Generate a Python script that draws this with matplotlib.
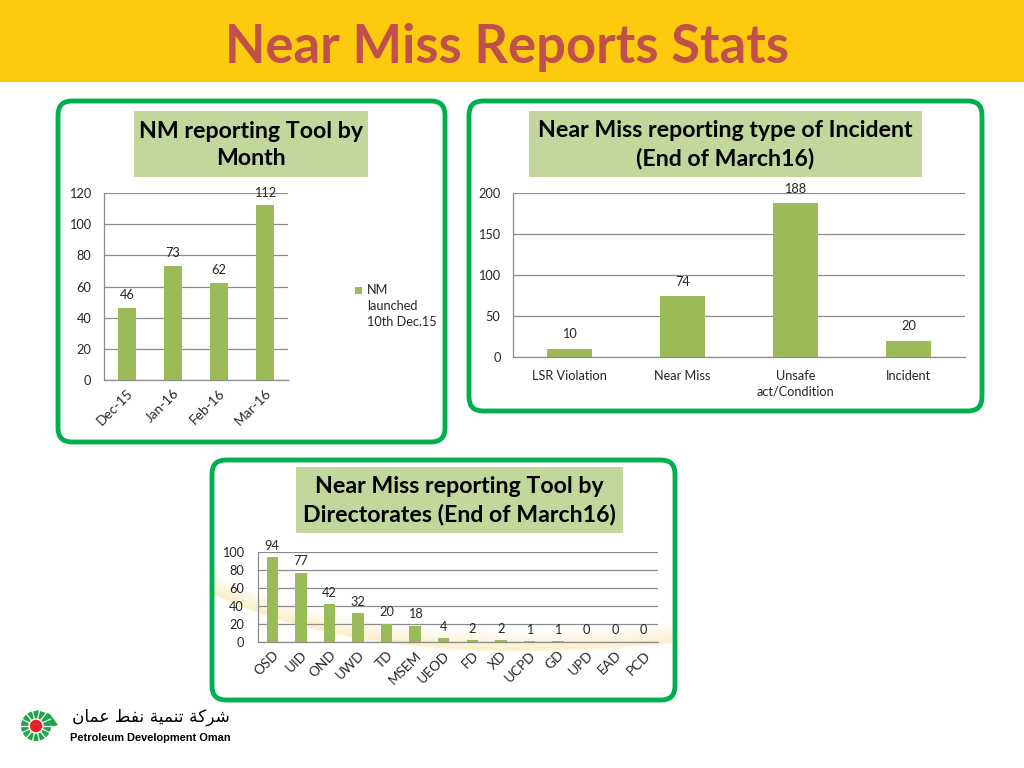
import numpy as np
import matplotlib
matplotlib.use('Agg')
import matplotlib.pyplot as plt
from matplotlib.patches import FancyBboxPatch, Rectangle, Circle, Polygon

plt.rcParams['font.family'] = ['Lato', 'DejaVu Sans']

# ---------------- data ----------------
months = ['Dec-15', 'Jan-16', 'Feb-16', 'Mar-16']
month_counts = [46, 73, 62, 112]
legend_label = 'NM\nlaunched\n10th Dec.15'

incident_types = ['LSR Violation', 'Near Miss', 'Unsafe\nact/Condition', 'Incident']
incident_counts = [10, 74, 188, 20]

directorates = ['OSD', 'UID', 'OND', 'UWD', 'TD', 'MSEM', 'UEOD', 'FD', 'XD',
                'UCPD', 'GD', 'UPD', 'EAD', 'PCD']
directorate_counts = [94, 77, 42, 32, 20, 18, 4, 2, 2, 1, 1, 0, 0, 0]

main_title = 'Near Miss Reports Stats'
title1 = 'NM reporting Tool by\nMonth'
title2 = 'Near Miss reporting type of Incident\n(End of March16)'
title3 = 'Near Miss reporting Tool by\nDirectorates (End of March16)'
company_en = 'Petroleum Development Oman'
# "شركة تنمية نفط عمان" in presentation forms, visual order
company_ar = '\ufee5\ufe8e\ufee4\ufecb \ufec2\ufed4\ufee7 \ufe94\ufef4\ufee4\ufee8\ufe97 \ufe94\ufedb\ufeae\ufeb7'

BAR = '#9BBB59'
BOXC = '#C3D69B'
FRAME = '#00B050'
GRID = '#8C8C8C'
TXT = '#262626'

W, H = 1024, 768
fig = plt.figure(figsize=(W / 100, H / 100), dpi=100)
bg = fig.add_axes([0, 0, 1, 1])
bg.set_xlim(0, W)
bg.set_ylim(H, 0)
bg.axis('off')


def ax_px(l, t, r, b):
    return fig.add_axes([l / W, 1 - b / H, (r - l) / W, (b - t) / H])


# title band
bg.add_patch(Rectangle((0, 0), W, 82, fc='#FDCA0D', ec='none'))
bg.text(507, 47, main_title, ha='center', va='center', fontsize=37.8,
        fontweight='bold', color='#C0504D')

# panels
for (l, t, r, b) in [(58, 101, 445, 442), (469, 101, 982, 411), (212, 460, 675, 700)]:
    bg.add_patch(FancyBboxPatch((l, t), r - l, b - t,
                                boxstyle='round,pad=0,rounding_size=14',
                                fc='white', ec=FRAME, lw=3.5))

# decorative faint swoosh in bottom panel
tt = np.linspace(0, 1, 200)
p0, p1, p2 = np.array([215, 594]), np.array([380, 672]), np.array([672, 642])
curve = ((1 - tt) ** 2)[:, None] * p0 + (2 * (1 - tt) * tt)[:, None] * p1 + (tt ** 2)[:, None] * p2
for k in range(16):
    bg.plot(curve[:, 0], curve[:, 1] - k * 1.2, color='#F5D25E',
            lw=1.6, alpha=0.2 * (1 - k / 16), solid_capstyle='butt')

# title boxes
for (l, t, r, b, txt) in [(134, 111, 368, 177, title1),
                          (529, 111, 922, 177, title2),
                          (296, 467, 623, 533, title3)]:
    bg.add_patch(Rectangle((l, t), r - l, b - t, fc=BOXC, ec='none'))
    bg.text((l + r) / 2, (t + b) / 2 + 1, txt, ha='center', va='center',
            fontsize=16.7, fontweight='bold', color='black', linespacing=1.38)


def style(ax, ymax, step):
    ax.set_ylim(0, ymax)
    ax.set_yticks(np.arange(0, ymax + 1, step))
    ax.patch.set_alpha(0)
    for s in ['top', 'right']:
        ax.spines[s].set_visible(False)
    for s in ['left', 'bottom']:
        ax.spines[s].set_color(GRID)
        ax.spines[s].set_linewidth(0.9)
    ax.grid(axis='y', color=GRID, lw=0.9)
    ax.set_axisbelow(True)
    ax.tick_params(length=0, labelsize=9.2, colors=TXT)


def labels(ax, x, vals, off):
    for xi, v in zip(x, vals):
        ax.annotate(str(v), (xi, v), xytext=(0, off), textcoords='offset points',
                    ha='center', va='bottom', fontsize=9.2, color=TXT,
                    annotation_clip=False)


# chart 1
ax1 = ax_px(104, 193, 288, 380)
x1 = np.arange(len(months))
ax1.bar(x1, month_counts, width=0.4, color=BAR)
ax1.set_xlim(-0.5, len(months) - 0.5)
style(ax1, 120, 20)
ax1.tick_params(axis='y', pad=9)
ax1.set_xticks(x1)
ax1.set_xticklabels(months, rotation=45, ha='right', rotation_mode='anchor',
                    fontsize=9.8)
ax1.tick_params(axis='x', pad=5)
labels(ax1, x1, month_counts, 5)
bg.add_patch(Rectangle((355, 286.5), 7, 7, fc=BAR, ec='none'))
bg.text(367, 284, legend_label, ha='left', va='top', fontsize=9.2, color=TXT,
        linespacing=1.42)

# chart 2
ax2 = ax_px(513, 193, 965, 357)
x2 = np.arange(len(incident_types))
ax2.bar(x2, incident_counts, width=0.4, color=BAR)
ax2.set_xlim(-0.5, len(incident_types) - 0.5)
style(ax2, 200, 50)
ax2.tick_params(axis='y', pad=9)
ax2.set_xticks(x2)
ax2.set_xticklabels(incident_types, linespacing=1.4)
ax2.tick_params(axis='x', pad=9)
labels(ax2, x2, incident_counts, 6)

# chart 3
ax3 = ax_px(258, 552, 658, 642)
x3 = np.arange(len(directorates))
ax3.bar(x3, directorate_counts, width=0.4, color=BAR)
ax3.set_xlim(-0.5, len(directorates) - 0.5)
style(ax3, 100, 20)
ax3.tick_params(axis='y', pad=10)
ax3.set_xticks(x3)
ax3.set_xticklabels(directorates, rotation=45, ha='right', rotation_mode='anchor',
                    fontsize=9.8)
ax3.tick_params(axis='x', pad=5)
labels(ax3, x3, directorate_counts, 4)

# logo
cx, cy = 36, 726
bg.add_patch(Polygon([[cx, cy - 16], [cx + 14, cy - 12], [cx + 22, cy - 1],
                      [cx + 12, cy + 2], [cx, cy]], closed=True,
                     fc='#1FA64A', ec='none'))
bg.add_patch(Circle((cx, cy), 15, fc='#1FA64A', ec='none'))
for ang in np.linspace(0, 2 * np.pi, 14, endpoint=False):
    bg.plot([cx + 7 * np.cos(ang), cx + 16 * np.cos(ang)],
            [cy + 7 * np.sin(ang), cy + 16 * np.sin(ang)],
            color='white', lw=0.9)
bg.add_patch(Circle((cx, cy), 7, fc='#E8222B', ec='white', lw=1))
bg.text(72, 717, company_ar, ha='left', va='center', fontsize=12.2,
        family='DejaVu Sans', color='black')
bg.text(70, 738, company_en, ha='left', va='center', fontsize=7.95,
        family='Liberation Sans', fontweight='bold', color='black')

fig.savefig('out.png', dpi=100)
